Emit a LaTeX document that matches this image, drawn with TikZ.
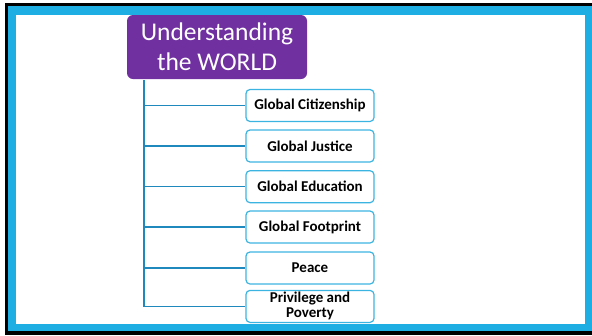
\documentclass[tikz,border=0pt]{standalone}
\usepackage{fontspec}
\setmainfont{Carlito}
\usepackage{xcolor}
\definecolor{framecol}{RGB}{30,174,228}
\definecolor{worldcol}{RGB}{112,48,160}
\definecolor{edgecol}{RGB}{60,180,225}
\definecolor{linkcol}{RGB}{31,137,190}
\tikzset{
    topicbox/.style = {draw = edgecol, line width = 1.2pt, fill = white, rounded corners = 4pt,
        minimum width = 128pt, minimum height = 32pt, inner sep = 0pt, align = center,
        font = \fontsize{15}{15}\selectfont\bfseries},
    link/.style = {draw = linkcol, line width = 1.5pt}
}

\begin{document}
\begin{tikzpicture}[x = 1pt, y = -1pt]
        \useasboundingbox (0,0) rectangle (592,335);
        % Frame
        \fill[black] (5,3) rectangle (592,335);
        \fill[framecol] (8,6) rectangle (592,331);
        \fill[white] (16,15) rectangle (585,324);

        % Title
        \node[fill = worldcol, rounded corners = 6pt, minimum width = 180pt, minimum height = 64pt,
            text = white, align = center, inner sep = 0pt, font = \fontsize{25.5}{30}\selectfont]
            (world) at (217,47) {Understanding\\the WORLD};
        \coordinate (trunk) at (144,80);
        \coordinate (trunkend) at (144,306.4);

        % Topics
        \node[topicbox] (citizen) at (310,105.5) {Global Citizenship};
        \node[topicbox] (justice) at (310,146) {Global Justice};
        \node[topicbox] (education) at (310,186.7) {Global Education};
        \node[topicbox] (footprint) at (310,227) {Global Footprint};
        \node[topicbox] (peace) at (310,268) {Peace};
        \node[topicbox] (privilege) at (310,306.4) {Privilege and\\Poverty};

        % Links
        \draw[link] (trunk) -- (trunkend) -- (privilege.west);
        \draw[link] (trunk |- citizen.west) -- (citizen.west);
        \draw[link] (trunk |- justice.west) -- (justice.west);
        \draw[link] (trunk |- education.west) -- (education.west);
        \draw[link] (trunk |- footprint.west) -- (footprint.west);
        \draw[link] (trunk |- peace.west) -- (peace.west);
    \end{tikzpicture}
\end{document}
